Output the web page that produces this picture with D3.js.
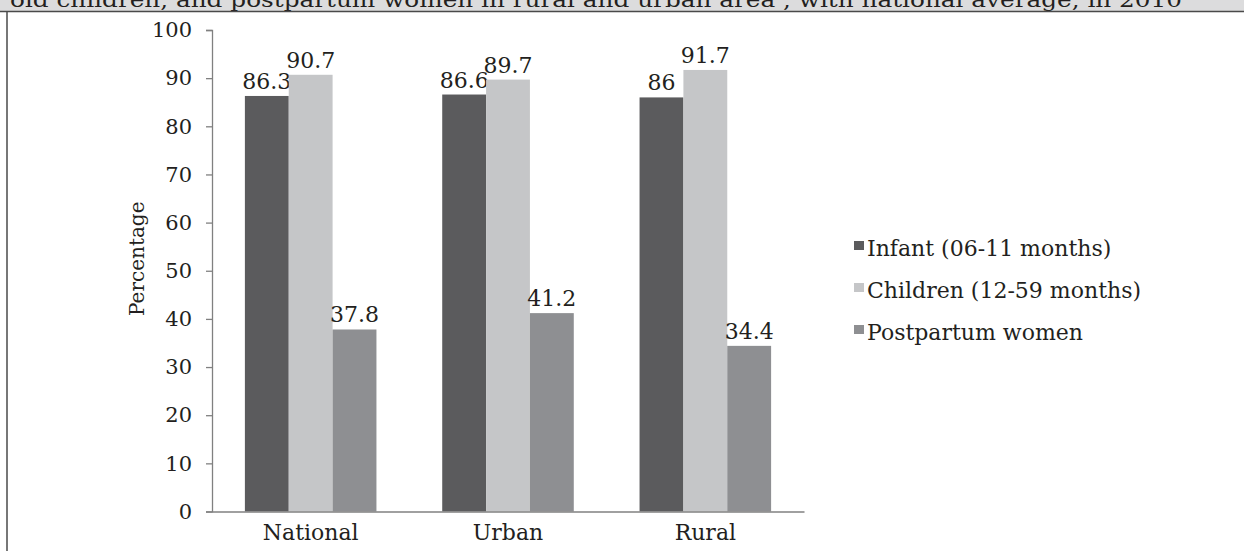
<!DOCTYPE html>
<html>
<head>
<meta charset="utf-8">
<script src="https://cdn.jsdelivr.net/npm/d3@7"></script>
<style>
  html, body { margin: 0; padding: 0; background: #fff; }
  svg { display: block; }
  text { font-family: "DejaVu Serif", "Liberation Serif", serif; fill: #231f20; }
</style>
</head>
<body>
<svg id="chart" width="1244" height="551"></svg>
<script>
// Vitamin A supplementation coverage by area, 2010
const categories = ["National", "Urban", "Rural"];
const seriesNames = ["Infant (06-11 months)", "Children (12-59 months)", "Postpartum women"];
const infant = [86.3, 86.6, 86];
const children = [90.7, 89.7, 91.7];
const postpartum = [37.8, 41.2, 34.4];
const yTicks = [0, 10, 20, 30, 40, 50, 60, 70, 80, 90, 100];
const titleText = "old children, and postpartum women in rural and urban area , with national average, in 2010";

const seriesValues = [infant, children, postpartum];
const colors = ["#5b5b5d", "#c5c6c8", "#8e8f92"];

const svg = d3.select("#chart");
const W = 1244, H = 551;

// Caption band across the top with frame lines
svg.append("rect").attr("x", 0).attr("y", 0).attr("width", W).attr("height", 11.5).attr("fill", "#dcdcdd");
svg.append("text")
  .attr("x", 10).attr("y", 7)
  .attr("font-size", 21)
  .attr("textLength", 1172).attr("lengthAdjust", "spacingAndGlyphs")
  .text(titleText);
svg.append("line").attr("x1", 0).attr("x2", W).attr("y1", 11.5).attr("y2", 11.5)
  .attr("stroke", "#4a4a4a").attr("stroke-width", 1.5);
svg.append("line").attr("x1", 7).attr("x2", 7).attr("y1", 11.5).attr("y2", H)
  .attr("stroke", "#4a4a4a").attr("stroke-width", 1.5);

// Plot area
const x0 = 212, x1 = 804, yTop = 30, yBot = 511.5;

const x = d3.scaleBand().domain(categories).range([x0, x1]).paddingInner(0).paddingOuter(0);
const groupFrac = 2 / 3;
const xs = d3.scaleBand().domain(d3.range(seriesNames.length))
  .range([0, x.bandwidth() * groupFrac]).padding(0);
const y = d3.scaleLinear().domain([0, 100]).range([yBot, yTop]);

// Bars
seriesValues.forEach((vals, si) => {
  svg.append("g").selectAll("rect")
    .data(vals)
    .join("rect")
    .attr("x", (d, i) => x(categories[i]) + x.bandwidth() * (1 - groupFrac) / 2 + xs(si))
    .attr("y", d => y(d))
    .attr("width", xs.bandwidth())
    .attr("height", d => y(0) - y(d))
    .attr("fill", colors[si]);

  svg.append("g").selectAll("text")
    .data(vals)
    .join("text")
    .attr("x", (d, i) => x(categories[i]) + x.bandwidth() * (1 - groupFrac) / 2 + xs(si) + xs.bandwidth() / 2)
    .attr("y", d => y(d) - 7)
    .attr("text-anchor", "middle")
    .attr("font-size", 22)
    .text(d => d);
});

// Y axis
const yAxis = svg.append("g")
  .attr("transform", `translate(${x0},0)`)
  .call(d3.axisLeft(y).tickValues(yTicks).tickSize(6).tickPadding(14).tickFormat(d3.format("d")));
yAxis.select(".domain").attr("stroke", "#808080").attr("stroke-width", 1.3);
yAxis.selectAll(".tick line").attr("stroke", "#808080").attr("stroke-width", 1.3);
yAxis.selectAll(".tick text").attr("font-size", 21).attr("font-family", "DejaVu Serif").attr("fill", "#231f20");

// X axis
const xAxis = svg.append("g")
  .attr("transform", `translate(0,${yBot})`)
  .call(d3.axisBottom(x).tickSize(0).tickPadding(13));
xAxis.select(".domain").attr("stroke", "#808080").attr("stroke-width", 1.3);
xAxis.selectAll(".tick text").attr("font-size", 22).attr("font-family", "DejaVu Serif").attr("fill", "#231f20");

// Y axis title
svg.append("text")
  .attr("transform", `translate(144,${(yTop + yBot) / 2 - 12}) rotate(-90)`)
  .attr("text-anchor", "middle")
  .attr("font-size", 20)
  .text("Percentage");

// Legend
const legend = svg.append("g").attr("transform", "translate(854,256)");
seriesNames.forEach((name, i) => {
  const g = legend.append("g").attr("transform", `translate(0,${i * 42})`);
  g.append("rect").attr("x", 0).attr("y", -15).attr("width", 10).attr("height", 9).attr("fill", colors[i]);
  g.append("text").attr("x", 13).attr("y", 0).attr("font-size", 22).text(name);
});
</script>
</body>
</html>
